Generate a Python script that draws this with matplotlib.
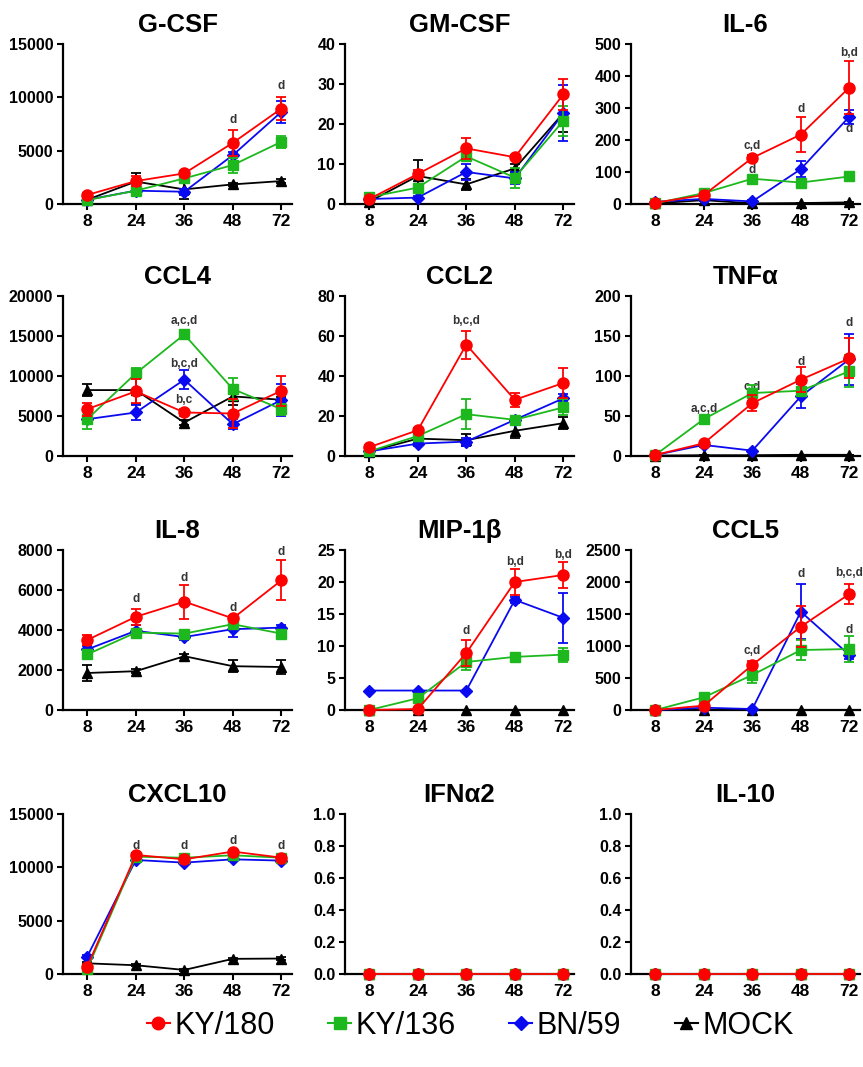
import matplotlib
matplotlib.use("Agg")
import matplotlib.pyplot as plt
from matplotlib.lines import Line2D

plt.rcParams['font.family'] = ['Liberation Sans', 'DejaVu Sans']

hours = [8, 24, 36, 48, 72]
series_names = ["KY/180", "KY/136", "BN/59", "MOCK"]

# ---- G-CSF ----
gcsf_ky180 = [850, 2150, 2870, 5730, 8940]
gcsf_ky180_err = [150, 500, 200, 1200, 1050]
gcsf_ky136 = [370, 1250, 2400, 3650, 5830]
gcsf_ky136_err = [100, 300, 300, 700, 550]
gcsf_bn59 = [400, 1250, 1150, 4580, 8630]
gcsf_bn59_err = [100, 200, 300, 300, 1000]
gcsf_mock = [400, 2100, 1370, 1840, 2150]
gcsf_mock_err = [100, 800, 900, 150, 150]
gcsf_notes = [(48, 7900, 'd'), (72, 11100, 'd')]

# ---- GM-CSF ----
gmcsf_ky180 = [1.25, 7.5, 13.9, 11.7, 27.4]
gmcsf_ky180_err = [0.3, 1.0, 2.7, 0.5, 3.8]
gmcsf_ky136 = [1.7, 4.1, 11.9, 6.6, 20.8]
gmcsf_ky136_err = [0.4, 0.5, 1.0, 2.5, 3.8]
gmcsf_bn59 = [1.25, 1.6, 8.0, 6.4, 22.7]
gmcsf_bn59_err = [0.3, 0.4, 2.0, 1.5, 7.0]
gmcsf_mock = [0.6, 7.0, 4.9, 8.9, 22.7]
gmcsf_mock_err = [0.3, 3.9, 1.3, 1.0, 4.7]
gmcsf_notes = []

# ---- IL-6 ----
il6_ky180 = [4, 28, 144, 217, 364]
il6_ky180_err = [2, 5, 8, 56, 84]
il6_ky136 = [2, 34, 79, 67, 86]
il6_ky136_err = [1, 4, 6, 6, 5]
il6_bn59 = [7, 16, 8, 109, 273]
il6_bn59_err = [3, 4, 3, 25, 22]
il6_mock = [2, 12, 2, 3, 5]
il6_mock_err = [1, 2, 1, 1, 1]
il6_notes = [(36, 182, 'c,d'), (36, 107, 'd'), (48, 296, 'd'), (72, 472, 'b,d'), (72, 233, 'd')]

# ---- CCL4 ----
ccl4_ky180 = [5860, 8080, 5440, 5310, 8160]
ccl4_ky180_err = [800, 1500, 400, 1800, 1900]
ccl4_ky136 = [4600, 10330, 15190, 8370, 5860]
ccl4_ky136_err = [1200, 700, 400, 1400, 700]
ccl4_bn59 = [4600, 5440, 9540, 3970, 6990]
ccl4_bn59_err = [500, 900, 1200, 600, 2000]
ccl4_mock = [8240, 8240, 4180, 7450, 7030]
ccl4_mock_err = [700, 1700, 300, 1100, 300]
ccl4_notes = [(36, 16860, 'a,c,d'), (36, 11500, 'b,c,d'), (36, 7030, 'b,c')]

# ---- CCL2 ----
ccl2_ky180 = [4.4, 12.9, 55.7, 28.1, 36.5]
ccl2_ky180_err = [0.8, 1.2, 7.0, 3.6, 7.5]
ccl2_ky136 = [2.3, 10.0, 20.9, 18.1, 24.3]
ccl2_ky136_err = [0.5, 1.0, 7.5, 2.0, 4.0]
ccl2_bn59 = [2.3, 6.2, 7.2, 18.1, 28.8]
ccl2_bn59_err = [0.5, 1.0, 2.0, 1.5, 2.0]
ccl2_mock = [2.2, 8.7, 7.9, 12.6, 16.4]
ccl2_mock_err = [0.5, 1.0, 3.0, 3.5, 3.0]
ccl2_notes = [(36, 67.3, 'b,c,d')]

# ---- TNFa ----
tnf_ky180 = [1.3, 15.9, 66, 95.4, 122]
tnf_ky180_err = [0.5, 2, 10, 16, 25]
tnf_ky136 = [1.3, 46, 78.7, 81.6, 105.9]
tnf_ky136_err = [0.5, 3, 10, 5, 20]
tnf_bn59 = [1.3, 13.8, 6.7, 74.5, 121]
tnf_bn59_err = [0.5, 2, 1, 15, 32]
tnf_mock = [0.5, 1, 1, 1.5, 1.5]
tnf_mock_err = [0.2, 0.2, 0.2, 0.2, 0.2]
tnf_notes = [(24, 58.6, 'a,c,d'), (36, 85.8, 'c,d'), (48, 118, 'd'), (72, 166, 'd')]

# ---- IL-8 ----
il8_ky180 = [3500, 4660, 5420, 4580, 6480]
il8_ky180_err = [250, 400, 850, 100, 1000]
il8_ky136 = [2780, 3870, 3820, 4290, 3820]
il8_ky136_err = [150, 150, 150, 200, 150]
il8_bn59 = [3030, 3960, 3650, 4040, 4120]
il8_bn59_err = [150, 300, 150, 400, 150]
il8_mock = [1850, 1940, 2690, 2190, 2150]
il8_mock_err = [400, 100, 100, 300, 350]
il8_notes = [(24, 5560, 'd'), (36, 6620, 'd'), (48, 5100, 'd'), (72, 7910, 'd')]

# ---- MIP-1b ----
mip_ky180 = [0, 0.15, 8.9, 20.0, 21.1]
mip_ky180_err = [0, 0, 2, 2, 2]
mip_ky136 = [0, 1.83, 7.5, 8.3, 8.65]
mip_ky136_err = [0, 0.3, 1.3, 0.4, 1.1]
mip_bn59 = [3.04, 3.04, 3.04, 17.2, 14.4]
mip_bn59_err = [0, 0, 0, 0.5, 3.9]
mip_mock = [0, 0, 0, 0, 0]
mip_mock_err = [0, 0, 0, 0, 0]
mip_notes = [(36, 12.4, 'd'), (48, 23.2, 'b,d'), (72, 24.2, 'b,d')]

# ---- CCL5 ----
ccl5_ky180 = [0, 68, 703, 1302, 1812]
ccl5_ky180_err = [0, 10, 60, 320, 150]
ccl5_ky136 = [0, 198, 547, 937, 953]
ccl5_ky136_err = [0, 20, 120, 160, 200]
ccl5_bn59 = [0, 36, 15, 1536, 860]
ccl5_bn59_err = [0, 5, 5, 430, 60]
ccl5_mock = [0, 0, 0, 0, 0]
ccl5_mock_err = [0, 0, 0, 0, 0]
ccl5_notes = [(36, 927, 'c,d'), (48, 2120, 'd'), (72, 2135, 'b,c,d'), (72, 1250, 'd')]

# ---- CXCL10 ----
cxcl10_ky180 = [690, 11160, 10750, 11480, 10910]
cxcl10_ky180_err = [100, 150, 150, 150, 150]
cxcl10_ky136 = [470, 11000, 10900, 11130, 10900]
cxcl10_ky136_err = [100, 150, 150, 150, 150]
cxcl10_bn59 = [1640, 10690, 10440, 10750, 10630]
cxcl10_bn59_err = [100, 150, 150, 150, 150]
cxcl10_mock = [1000, 820, 380, 1420, 1450]
cxcl10_mock_err = [100, 100, 100, 100, 100]
cxcl10_notes = [(24, 12000, 'd'), (36, 12000, 'd'), (48, 12450, 'd'), (72, 12000, 'd')]

# ---- IFNa2 ----
ifna2_ky180 = [0, 0, 0, 0, 0]
ifna2_ky136 = [0, 0, 0, 0, 0]
ifna2_bn59 = [0, 0, 0, 0, 0]
ifna2_mock = [0, 0, 0, 0, 0]
zero_err = [0, 0, 0, 0, 0]
ifna2_notes = []

# ---- IL-10 ----
il10_ky180 = [0, 0, 0, 0, 0]
il10_ky136 = [0, 0, 0, 0, 0]
il10_bn59 = [0, 0, 0, 0, 0]
il10_mock = [0, 0, 0, 0, 0]
il10_notes = []

titles = ["G-CSF", "GM-CSF", "IL-6", "CCL4", "CCL2", "TNF\u03b1",
          "IL-8", "MIP-1\u03b2", "CCL5", "CXCL10", "IFN\u03b12", "IL-10"]
ymaxes = [15000, 40, 500, 20000, 80, 200, 8000, 25, 2500, 15000, 1.0, 1.0]
ysteps = [5000, 10, 100, 5000, 20, 50, 2000, 5, 500, 5000, 0.2, 0.2]

panels = [
    ((gcsf_ky180, gcsf_ky180_err), (gcsf_ky136, gcsf_ky136_err), (gcsf_bn59, gcsf_bn59_err), (gcsf_mock, gcsf_mock_err), gcsf_notes),
    ((gmcsf_ky180, gmcsf_ky180_err), (gmcsf_ky136, gmcsf_ky136_err), (gmcsf_bn59, gmcsf_bn59_err), (gmcsf_mock, gmcsf_mock_err), gmcsf_notes),
    ((il6_ky180, il6_ky180_err), (il6_ky136, il6_ky136_err), (il6_bn59, il6_bn59_err), (il6_mock, il6_mock_err), il6_notes),
    ((ccl4_ky180, ccl4_ky180_err), (ccl4_ky136, ccl4_ky136_err), (ccl4_bn59, ccl4_bn59_err), (ccl4_mock, ccl4_mock_err), ccl4_notes),
    ((ccl2_ky180, ccl2_ky180_err), (ccl2_ky136, ccl2_ky136_err), (ccl2_bn59, ccl2_bn59_err), (ccl2_mock, ccl2_mock_err), ccl2_notes),
    ((tnf_ky180, tnf_ky180_err), (tnf_ky136, tnf_ky136_err), (tnf_bn59, tnf_bn59_err), (tnf_mock, tnf_mock_err), tnf_notes),
    ((il8_ky180, il8_ky180_err), (il8_ky136, il8_ky136_err), (il8_bn59, il8_bn59_err), (il8_mock, il8_mock_err), il8_notes),
    ((mip_ky180, mip_ky180_err), (mip_ky136, mip_ky136_err), (mip_bn59, mip_bn59_err), (mip_mock, mip_mock_err), mip_notes),
    ((ccl5_ky180, ccl5_ky180_err), (ccl5_ky136, ccl5_ky136_err), (ccl5_bn59, ccl5_bn59_err), (ccl5_mock, ccl5_mock_err), ccl5_notes),
    ((cxcl10_ky180, cxcl10_ky180_err), (cxcl10_ky136, cxcl10_ky136_err), (cxcl10_bn59, cxcl10_bn59_err), (cxcl10_mock, cxcl10_mock_err), cxcl10_notes),
    ((ifna2_ky180, zero_err), (ifna2_ky136, zero_err), (ifna2_bn59, zero_err), (ifna2_mock, zero_err), ifna2_notes),
    ((il10_ky180, zero_err), (il10_ky136, zero_err), (il10_bn59, zero_err), (il10_mock, zero_err), il10_notes),
]

colors = ["#FF0000", "#1DB81D", "#0A0AF0", "#000000"]
markers = ["o", "s", "D", "^"]
msizes = [8, 7, 6.5, 7.5]
draw_order = [3, 2, 1, 0]

# categorical, evenly spaced time points
xpos = list(range(len(hours)))

W, H = 863, 1067
fig = plt.figure(figsize=(W / 100, H / 100), dpi=100)
col_left = [63, 345, 631]
row_top = [44, 296, 550, 814]
ax_w, ax_h = 229, 160

for i, panel in enumerate(panels):
    r, c = divmod(i, 3)
    l, t = col_left[c], row_top[r]
    ax = fig.add_axes([l / W, 1 - (t + ax_h) / H, ax_w / W, ax_h / H])
    for k in draw_order:
        vals, errs = panel[k]
        ax.errorbar(xpos, vals, yerr=errs, color=colors[k], marker=markers[k],
                    markersize=msizes[k], linewidth=1.3, elinewidth=1.3,
                    capsize=3.5, capthick=1.3, clip_on=False, zorder=3 + (3 - k))
    for (xh, yv, txt) in panel[4]:
        ax.text(hours.index(xh), yv, txt, ha='center', va='center', fontsize=8.5,
                fontweight='bold', color='#333333')
    ymax = ymaxes[i]
    step = ysteps[i]
    n = int(round(ymax / step))
    yt = [step * j for j in range(n + 1)]
    ax.set_ylim(0, ymax)
    ax.set_xlim(-0.5, 4.22)
    ax.set_xticks(xpos)
    ax.set_xticklabels([str(h) for h in hours])
    ax.set_yticks(yt)
    if step < 1:
        ax.set_yticklabels(["%.1f" % v for v in yt])
    else:
        ax.set_yticklabels([str(int(v)) for v in yt])
    for s in ['top', 'right']:
        ax.spines[s].set_visible(False)
    for s in ['left', 'bottom']:
        ax.spines[s].set_linewidth(1.6)
    ax.tick_params(axis='both', direction='out', length=4, width=1.5,
                   labelsize=11.5, pad=3)
    ax.tick_params(axis='x', labelsize=12.5)
    for lab in ax.get_xticklabels() + ax.get_yticklabels():
        lab.set_fontweight('bold')
    ax.set_title(titles[i], fontsize=18.5, fontweight='bold', pad=9)

handles = [Line2D([], [], color=colors[k], marker=markers[k], markersize=msizes[k] + 1,
                  linewidth=1.5) for k in range(4)]
fig.legend(handles, series_names, loc='center', bbox_to_anchor=(0.545, 1 - 1026 / H),
           ncol=4, frameon=False, prop={'family': 'Liberation Sans', 'size': 22},
           handlelength=0.75, handletextpad=0.15, columnspacing=1.75)

fig.savefig("out.png", dpi=100)
